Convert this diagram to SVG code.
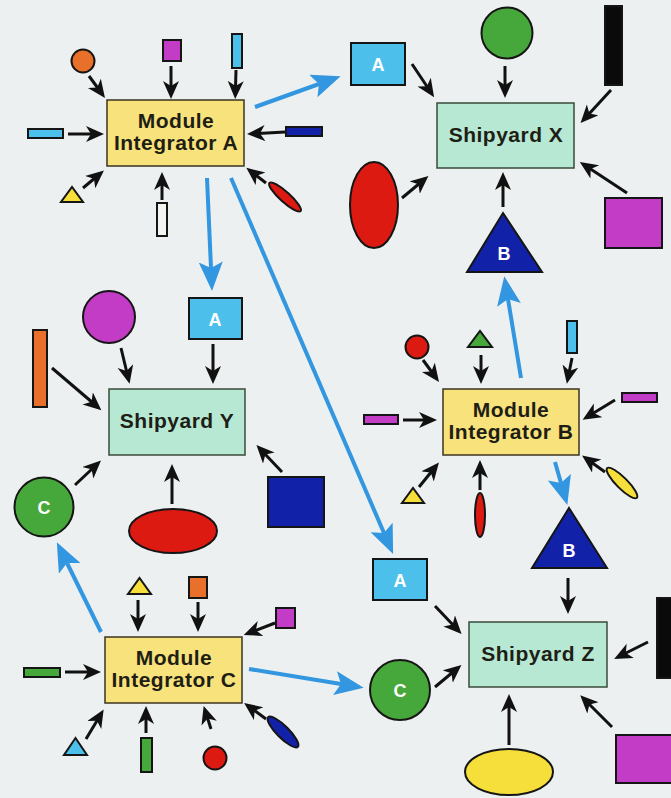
<svg xmlns="http://www.w3.org/2000/svg" width="671" height="798" viewBox="0 0 671 798">
<style>
.bg{fill:#edf0f0}
.s{stroke:#151515;stroke-width:2}
.mi{fill:#f8e27c;stroke:#3a3520;stroke-width:1.5}
.sy{fill:#b6e8d4;stroke:#3a4a3a;stroke-width:1.5}
.t{font-family:"Liberation Sans",Arial,sans-serif;font-weight:bold;font-size:21px;letter-spacing:0.5px;fill:#1e1e14;text-anchor:middle}
.w{font-family:"Liberation Sans",Arial,sans-serif;font-weight:bold;font-size:18px;fill:#ffffff;text-anchor:middle}
.ba{stroke:#111;stroke-width:3;fill:none;marker-end:url(#bk)}
.bl{stroke:#3396e0;stroke-width:4;fill:none;marker-end:url(#bu)}
.cy{fill:#4cc0ea}.mg{fill:#c23cc6}.or{fill:#e8702a}.gr{fill:#46a83a}.rd{fill:#dc1a12}
.db{fill:#1222a8}.ye{fill:#f6df3a}.bkf{fill:#0a0a0a}.wh{fill:#f4f4f0}
</style>
<defs>
<marker id="bk" markerUnits="userSpaceOnUse" markerWidth="20" markerHeight="18" refX="7" refY="8" orient="auto">
<path d="M0,0 L18,8 L0,16 L5,8 z" fill="#111"/>
</marker>
<marker id="bu" markerUnits="userSpaceOnUse" markerWidth="32" markerHeight="26" refX="6" refY="12" orient="auto">
<path d="M0,0 L29,12 L0,24 L6,12 z" fill="#3396e0"/>
</marker>
</defs>
<rect class="bg" x="0" y="0" width="671" height="798"/>

<g id="connectors">
<!-- Module Integrator A inputs -->
<line class="ba" x1="89" y1="76" x2="98.5" y2="89"/>
<line class="ba" x1="171" y1="66" x2="171" y2="88"/>
<line class="ba" x1="236" y1="70" x2="235.5" y2="88"/>
<line class="ba" x1="68" y1="134" x2="93" y2="134"/>
<line class="ba" x1="285" y1="132" x2="258" y2="133.5"/>
<line class="ba" x1="83" y1="188" x2="95.5" y2="177.5"/>
<line class="ba" x1="162" y1="200" x2="162" y2="183"/>
<line class="ba" x1="266" y1="183" x2="255" y2="174.5"/>
<!-- Shipyard X inputs -->
<line class="ba" x1="412" y1="64" x2="428" y2="88"/>
<line class="ba" x1="505" y1="66" x2="505" y2="87"/>
<line class="ba" x1="611" y1="90" x2="588" y2="115"/>
<line class="ba" x1="402" y1="198" x2="420" y2="183"/>
<line class="ba" x1="627" y1="193" x2="589" y2="168"/>
<line class="ba" x1="503" y1="207" x2="503" y2="183"/>
<!-- Shipyard Y inputs -->
<line class="ba" x1="121" y1="348" x2="127" y2="373"/>
<line class="ba" x1="213" y1="344" x2="213" y2="373"/>
<line class="ba" x1="52" y1="368" x2="93" y2="403"/>
<line class="ba" x1="75" y1="485" x2="93" y2="468"/>
<line class="ba" x1="172" y1="504" x2="172" y2="475"/>
<line class="ba" x1="282" y1="472" x2="264" y2="453"/>
<!-- Module Integrator B inputs -->
<line class="ba" x1="423" y1="360" x2="432.5" y2="373"/>
<line class="ba" x1="481" y1="355" x2="481" y2="373"/>
<line class="ba" x1="572" y1="358" x2="569" y2="373"/>
<line class="ba" x1="403" y1="420" x2="426" y2="420"/>
<line class="ba" x1="615" y1="400" x2="592" y2="414"/>
<line class="ba" x1="419" y1="487" x2="432" y2="471"/>
<line class="ba" x1="480" y1="490" x2="480" y2="471"/>
<line class="ba" x1="605" y1="472" x2="591" y2="462"/>
<!-- Shipyard Z inputs -->
<line class="ba" x1="435" y1="606" x2="454" y2="626"/>
<line class="ba" x1="435" y1="687" x2="453" y2="672"/>
<line class="ba" x1="568" y1="578" x2="568" y2="603"/>
<line class="ba" x1="648" y1="642" x2="624" y2="654"/>
<line class="ba" x1="509" y1="745" x2="509" y2="705"/>
<line class="ba" x1="612" y1="727" x2="588" y2="703"/>
<!-- Module Integrator C inputs -->
<line class="ba" x1="138" y1="600" x2="138" y2="621"/>
<line class="ba" x1="198" y1="602" x2="198" y2="621"/>
<line class="ba" x1="275" y1="623" x2="254" y2="631"/>
<line class="ba" x1="65" y1="672" x2="90" y2="672"/>
<line class="ba" x1="86" y1="739" x2="98" y2="719"/>
<line class="ba" x1="146" y1="733" x2="146" y2="717"/>
<line class="ba" x1="211" y1="729" x2="207" y2="716.5"/>
<line class="ba" x1="266" y1="719" x2="253" y2="709.5"/>
<!-- blue flows -->
<line class="bl" x1="255" y1="107" x2="319" y2="84"/>
<line class="bl" x1="207" y1="178" x2="211" y2="268"/>
<line class="bl" x1="231" y1="178" x2="384" y2="533"/>
<line class="bl" x1="521" y1="378" x2="508" y2="299"/>
<line class="bl" x1="555" y1="462" x2="561" y2="483"/>
<line class="bl" x1="101" y1="632" x2="67" y2="563"/>
<line class="bl" x1="249" y1="669" x2="341" y2="684"/>
</g>

<!-- Main nodes -->
<g id="module-integrator-a"><rect class="mi" x="107" y="100" width="137" height="66"/><text class="t" x="176" y="128">Module</text><text class="t" x="176" y="150">Integrator A</text></g>
<g id="module-integrator-b"><rect class="mi" x="443" y="389" width="136" height="66"/><text class="t" x="511" y="417">Module</text><text class="t" x="511" y="439">Integrator B</text></g>
<g id="module-integrator-c"><rect class="mi" x="105" y="637" width="137" height="66"/><text class="t" x="174" y="665">Module</text><text class="t" x="174" y="687">Integrator C</text></g>
<g id="shipyard-x"><rect class="sy" x="437" y="103" width="137" height="65"/><text class="t" x="506" y="142">Shipyard X</text></g>
<g id="shipyard-y"><rect class="sy" x="109" y="389" width="136" height="66"/><text class="t" x="177" y="428">Shipyard Y</text></g>
<g id="shipyard-z"><rect class="sy" x="469" y="622" width="138" height="65"/><text class="t" x="538" y="661">Shipyard Z</text></g>

<!-- Inputs to A -->
<g id="a-orange-circle"><circle class="or s" cx="83" cy="61" r="11.5"/></g>
<g id="a-purple-square"><rect class="mg s" x="163" y="40" width="18" height="21"/></g>
<g id="a-cyan-bar"><rect class="cy s" x="232" y="34" width="10" height="34"/></g>
<g id="a-cyan-hbar"><rect class="cy s" x="28" y="129" width="35" height="9"/></g>
<g id="a-blue-hbar"><rect class="db s" x="286" y="127" width="36" height="9"/></g>
<g id="a-yellow-triangle"><polygon class="ye s" points="61,202 83,202 72,187"/></g>
<g id="a-white-bar"><rect class="wh s" x="157" y="203" width="10" height="33"/></g>
<g id="a-red-ellipse"><ellipse class="rd s" cx="285" cy="197" rx="21" ry="5" transform="rotate(42 285 197)"/></g>

<!-- Inputs to X -->
<g id="x-a-box"><rect class="cy s" x="351" y="43" width="54" height="42"/><text class="w" x="378" y="71">A</text></g>
<g id="x-green-circle"><circle class="gr s" cx="507" cy="33" r="25.5"/></g>
<g id="x-black-bar"><rect class="bkf s" x="605" y="6" width="17" height="79"/></g>
<g id="x-red-ellipse"><ellipse class="rd s" cx="374" cy="205" rx="24" ry="43"/></g>
<g id="x-purple-square"><rect class="mg s" x="605" y="198" width="57" height="50"/></g>
<g id="x-b-triangle"><polygon class="db s" points="503,213 542,272 467,272"/><text class="w" x="504" y="260">B</text></g>

<!-- Inputs to Y -->
<g id="y-magenta-circle"><circle class="mg s" cx="109" cy="317" r="26"/></g>
<g id="y-a-box"><rect class="cy s" x="189" y="298" width="53" height="41"/><text class="w" x="215" y="326">A</text></g>
<g id="y-orange-bar"><rect class="or s" x="33" y="330" width="14" height="77"/></g>
<g id="y-c-circle"><circle class="gr s" cx="44" cy="507" r="29.5"/><text class="w" x="44" y="514">C</text></g>
<g id="y-red-ellipse"><ellipse class="rd s" cx="173" cy="531" rx="44" ry="22"/></g>
<g id="y-blue-square"><rect class="db s" x="268" y="477" width="56" height="50"/></g>

<!-- Inputs to B -->
<g id="b-red-circle"><circle class="rd s" cx="417" cy="347" r="11.5"/></g>
<g id="b-green-triangle"><polygon class="gr s" points="468,347 492,347 480,331"/></g>
<g id="b-cyan-bar"><rect class="cy s" x="567" y="321" width="10" height="32"/></g>
<g id="b-magenta-lbar"><rect class="mg s" x="364" y="415" width="34" height="9"/></g>
<g id="b-magenta-rbar"><rect class="mg s" x="622" y="393" width="35" height="9"/></g>
<g id="b-yellow-triangle"><polygon class="ye s" points="402,503 424,503 413,488"/></g>
<g id="b-red-ellipse"><ellipse class="rd s" cx="480" cy="515" rx="5" ry="22"/></g>
<g id="b-yellow-ellipse"><ellipse class="ye s" cx="622" cy="483" rx="21" ry="5.5" transform="rotate(45 622 483)"/></g>

<!-- Inputs to Z -->
<g id="z-b-triangle"><polygon class="db s" points="569,508 607,568 532,568"/><text class="w" x="569" y="557">B</text></g>
<g id="z-a-box"><rect class="cy s" x="373" y="559" width="54" height="41"/><text class="w" x="400" y="587">A</text></g>
<g id="z-c-circle"><circle class="gr s" cx="400" cy="690" r="30"/><text class="w" x="400" y="697">C</text></g>
<g id="z-black-bar"><rect class="bkf s" x="657" y="598" width="20" height="80"/></g>
<g id="z-yellow-ellipse"><ellipse class="ye s" cx="509" cy="772" rx="44" ry="23"/></g>
<g id="z-magenta-square"><rect class="mg s" x="616" y="735" width="60" height="48"/></g>

<!-- Inputs to C -->
<g id="c-yellow-triangle"><polygon class="ye s" points="128,594 151,594 139.5,578"/></g>
<g id="c-orange-square"><rect class="or s" x="189" y="577" width="18" height="21"/></g>
<g id="c-magenta-square"><rect class="mg s" x="276" y="608" width="19" height="20"/></g>
<g id="c-green-hbar"><rect class="gr s" x="24" y="668" width="36" height="9"/></g>
<g id="c-cyan-triangle"><polygon class="cy s" points="64,755 87,755 75.5,738"/></g>
<g id="c-green-vbar"><rect class="gr s" x="141" y="738" width="11" height="34"/></g>
<g id="c-red-circle"><circle class="rd s" cx="215" cy="758" r="11.5"/></g>
<g id="c-blue-ellipse"><ellipse class="db s" cx="283" cy="732" rx="21" ry="6" transform="rotate(45 283 732)"/></g>
</svg>
